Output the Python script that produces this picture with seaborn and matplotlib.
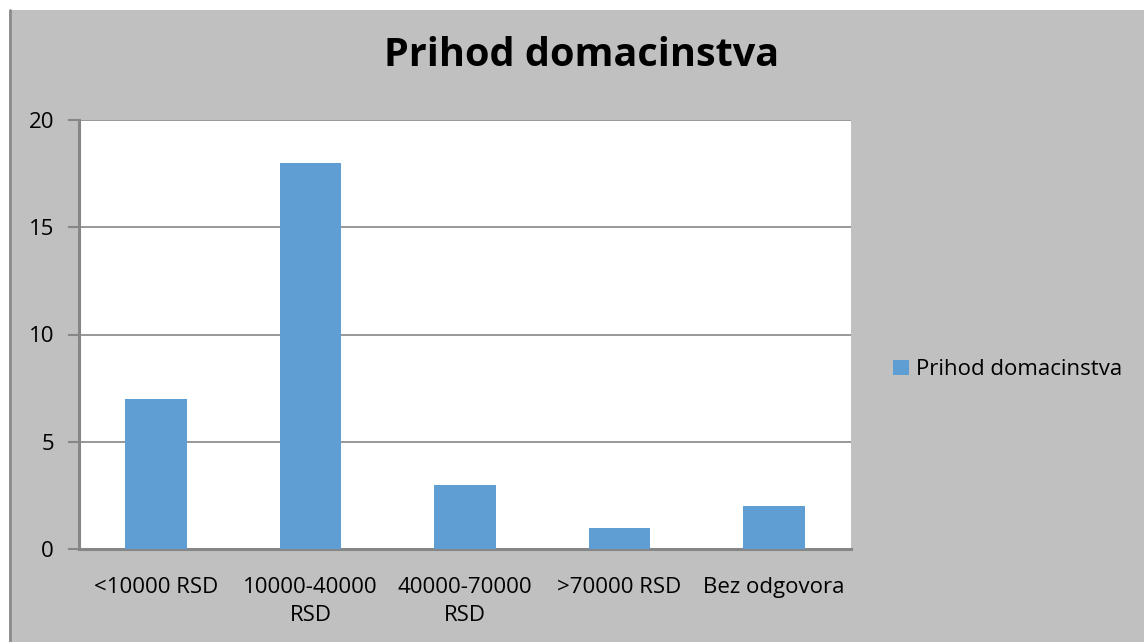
import pandas as pd
import seaborn as sns
import matplotlib.pyplot as plt
from matplotlib.patches import Rectangle
from matplotlib.lines import Line2D

# chart data
categories = ["<10000 RSD", "10000-40000\nRSD", "40000-70000\nRSD", ">70000 RSD", "Bez odgovora"]
counts = [7, 18, 3, 1, 2]
series_name = "Prihod domacinstva"
y_ticks = [0, 5, 10, 15, 20]

df = pd.DataFrame({"kategorija": categories, "broj": counts, "serija": series_name})

sns.set_theme(style="white")
plt.rcParams["font.family"] = ["Open Sans", "DejaVu Sans"]
plt.rcParams["text.color"] = "black"

W, H = 1144, 642
fig = plt.figure(figsize=(W / 100, H / 100), dpi=100, facecolor="white")

# grey chart area with a thin left border, like the office chart frame
fig.patches.append(Rectangle((9 / W, 0), 1 - 9 / W, 1 - 10 / H, transform=fig.transFigure,
                             facecolor="#c0c0c0", edgecolor="none", zorder=-3))
fig.lines.append(Line2D([10 / W, 10 / W], [0, 1 - 10 / H], transform=fig.transFigure,
                        color="#8c8c8c", lw=2, zorder=-2))

ax = fig.add_axes([79 / W, 1 - 549 / H, (851 - 79) / W, (549 - 120) / H])
ax.set_facecolor("white")

sns.barplot(data=df, x="kategorija", y="broj", hue="serija", palette=["#5f9ed2"],
            saturation=1, width=0.4, linewidth=0, ax=ax, legend=True, zorder=3)

ax.set_ylim(0, 20)
ax.set_yticks(y_ticks)
ax.set_xlim(-0.5, len(categories) - 0.5)
ax.yaxis.grid(True, color="#868686", lw=1.2, zorder=0)
ax.set_axisbelow(True)
ax.set_xlabel("")
ax.set_ylabel("")

for side in ["top", "right"]:
    ax.spines[side].set_visible(False)
for side in ["left", "bottom"]:
    ax.spines[side].set_color("#868686")
    ax.spines[side].set_linewidth(2.2)

ax.tick_params(axis="y", left=True, length=8, width=1.5, color="#868686",
               labelsize=16, labelcolor="black", pad=10)
ax.tick_params(axis="x", bottom=False, labelsize=16, labelcolor="black", pad=14)
for lbl in ax.get_xticklabels():
    lbl.set_linespacing(1.45)

ax.get_legend().remove()
handle = Rectangle((0, 0), 1, 1, facecolor="#5f9ed2", edgecolor="none")
leg = fig.legend([handle], [series_name], loc="center left",
                 bbox_to_anchor=(873 / W, 1 - 370 / H), frameon=False,
                 fontsize=16, handlelength=0.7, handleheight=0.7, handletextpad=0.35)
for t in leg.get_texts():
    t.set_color("black")

fig.text(582 / W, 1 - 55 / H, "Prihod domacinstva", ha="center", va="center",
         fontsize=28.5, fontweight="bold", color="black")

fig.savefig("out.png", dpi=100, facecolor=fig.get_facecolor())
